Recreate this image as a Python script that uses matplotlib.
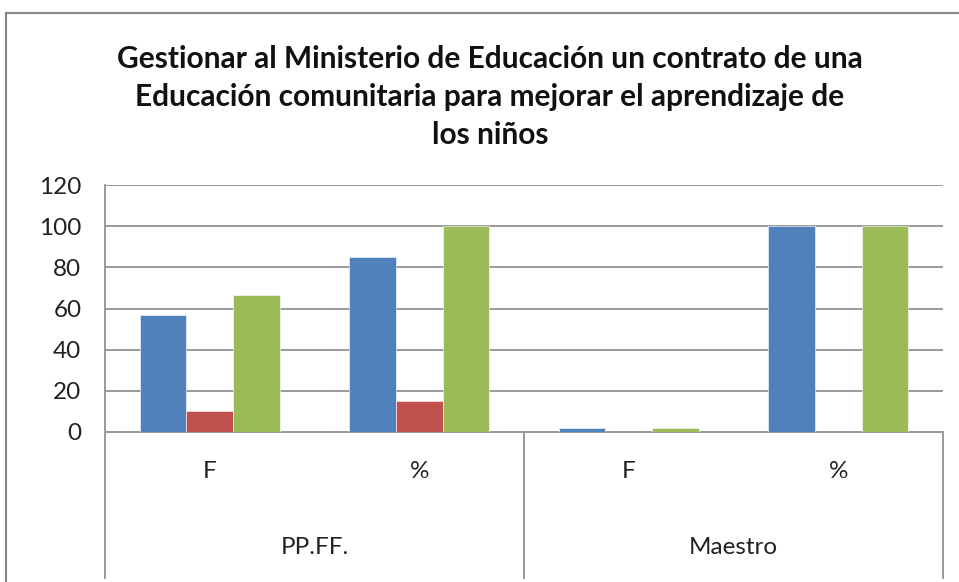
import numpy as np
import matplotlib.pyplot as plt
from matplotlib.lines import Line2D

plt.rcParams['font.family'] = ['Lato', 'DejaVu Sans']

title = ('Gestionar al Ministerio de Educación un contrato de una\n'
         'Educación comunitaria para mejorar el aprendizaje de\n'
         'los niños')
groups = ['PP.FF.', 'Maestro']
subcats = ['F', '%', 'F', '%']
serie1 = [56.6, 85, 2, 100]
serie2 = [10, 15, 0, 0]
serie3 = [66.6, 100, 2, 100]
colors = ['#4F81BD', '#C0504D', '#9BBB59']
yticks = [0, 20, 40, 60, 80, 100, 120]

W, H = 959, 582
fig = plt.figure(figsize=(W / 100, H / 100), dpi=100)

# chart area border (top and left edges visible)
fig.add_artist(Line2D([6 / W, 6 / W], [0, 1 - 13 / H], transform=fig.transFigure,
                      color='#888888', lw=1.5))
fig.add_artist(Line2D([6 / W, 1], [1 - 13 / H, 1 - 13 / H], transform=fig.transFigure,
                      color='#888888', lw=1.5))

left, right, top, bottom = 105, 943, 185, 432
ax = fig.add_axes([left / W, 1 - bottom / H, (right - left) / W, (bottom - top) / H])

x = np.arange(len(subcats))
bw = 1 / 4.5
for i, (vals, c) in enumerate(zip([serie1, serie2, serie3], colors)):
    ax.bar(x + (i - 1) * bw, vals, bw, color=c, edgecolor='white', linewidth=0.4, zorder=3)

fs = 17.5
ax.set_xlim(-0.5, len(subcats) - 0.5)
ax.set_ylim(0, 120)
ax.set_yticks(yticks)
ax.grid(axis='y', color='#9a9a9a', lw=1.4, zorder=0)
ax.set_xticks([])
ax.tick_params(axis='y', length=0, pad=17, labelsize=fs, labelcolor='#222222')
for s in ['top', 'right']:
    ax.spines[s].set_visible(False)
ax.spines['left'].set_color('#9a9a9a')
ax.spines['left'].set_linewidth(1.4)
ax.spines['bottom'].set_color('#9a9a9a')
ax.spines['bottom'].set_linewidth(1.4)

# category labels and group separators below axis
ph = bottom - top
tr = ax.get_xaxis_transform()
for xi, lab in zip(x, subcats):
    ax.text(xi, -40 / ph, lab, transform=tr, ha='center', va='center', fontsize=fs,
            color='#222222')
for gi, g in enumerate(groups):
    ax.text(gi * 2 + 0.5, -116 / ph, g, transform=tr, ha='center', va='center',
            fontsize=fs, color='#222222')
yb = -(578 - bottom) / ph
for xv in [-0.5, 1.5, 3.5]:
    ax.plot([xv, xv], [0, yb], transform=tr, color='#9a9a9a', lw=1.4, clip_on=False)

fig.text(490 / W, 1 - 97 / H, title, ha='center', va='center', fontsize=21.5,
         fontweight='bold', linespacing=1.42, color='#111111')

fig.savefig('out.png', dpi=100)
